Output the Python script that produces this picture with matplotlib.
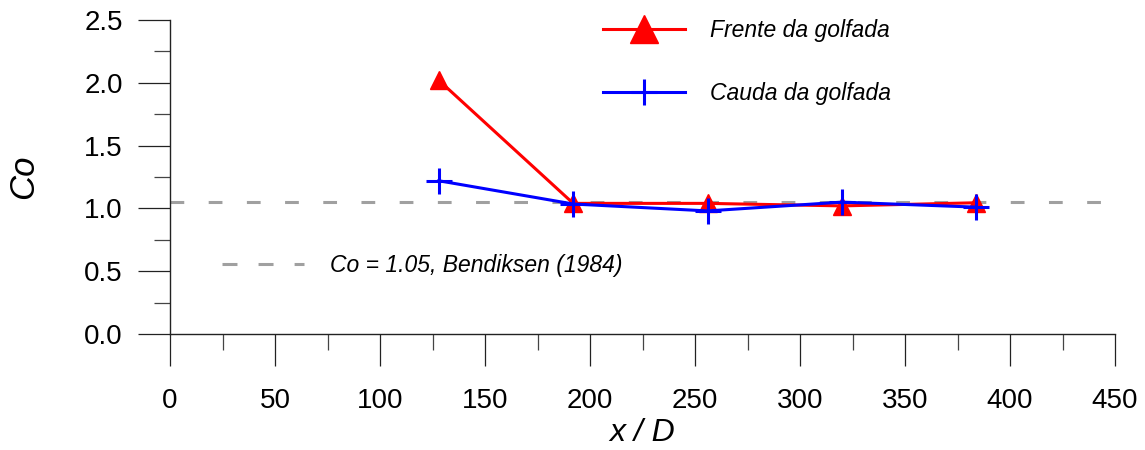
import matplotlib
matplotlib.use('Agg')
import matplotlib.pyplot as plt
from matplotlib.lines import Line2D
from matplotlib.ticker import MultipleLocator

plt.rcParams['font.family'] = ['Liberation Sans', 'DejaVu Sans']

# posições x/D e coeficiente de distribuição Co
xd = [128, 192, 256, 320, 384]
co_frente = [2.02, 1.04, 1.04, 1.02, 1.045]
co_cauda = [1.22, 1.035, 0.98, 1.05, 1.01]
co_bendiksen = 1.05

lbl_frente = 'Frente da golfada'
lbl_cauda = 'Cauda da golfada'
lbl_bendiksen = 'Co = 1.05, Bendiksen (1984)'

fig = plt.figure(figsize=(11.45, 4.5), dpi=100)
ax = fig.add_axes([170/1145, 116/450, 945/1145, 314/450])

cinza = '#a0a0a0'
ax.axhline(co_bendiksen, color=cinza, lw=2.2, dashes=(4.5, 8), zorder=1)
ax.plot(xd, co_frente, color='red', lw=2.2, marker='^', ms=12.5, zorder=3)
ax.plot(xd, co_cauda, color='blue', lw=2.2, marker='+', ms=19, mew=2.2, zorder=4)

ax.set_xlim(0, 450)
ax.set_ylim(0, 2.5)
ax.xaxis.set_major_locator(MultipleLocator(50))
ax.xaxis.set_minor_locator(MultipleLocator(25))
ax.yaxis.set_major_locator(MultipleLocator(0.5))
ax.yaxis.set_minor_locator(MultipleLocator(0.25))
ax.yaxis.set_major_formatter(matplotlib.ticker.FormatStrFormatter('%.1f'))

for s in ['top', 'right']:
    ax.spines[s].set_visible(False)
for s in ['left', 'bottom']:
    ax.spines[s].set_linewidth(1.0)
    ax.spines[s].set_color('#222222')

ax.tick_params(which='major', length=23, width=0.9, color='#222222', labelsize=20)
ax.tick_params(which='minor', length=11.5, width=0.9, color='#444444')
ax.tick_params(axis='x', which='major', pad=16)
ax.tick_params(axis='y', which='major', pad=11)

ax.set_xlabel('x / D', fontsize=23, style='italic', labelpad=3)
ax.set_ylabel('Co', fontsize=25, style='italic', labelpad=32)

h_frente = Line2D([], [], color='red', lw=2.2, marker='^', ms=19.5)
h_cauda = Line2D([], [], color='blue', lw=2.2, marker='+', ms=19, mew=2.2)
leg1 = ax.legend([h_frente, h_cauda], [lbl_frente, lbl_cauda], loc='upper left',
                 bbox_to_anchor=(0.458, 1.003), frameon=False, borderpad=0, borderaxespad=0,
                 handlelength=3.58, handletextpad=1.09, labelspacing=1.75,
                 prop={'size': 16.5, 'style': 'italic'})
ax.add_artist(leg1)

h_bend = Line2D([], [], color=cinza, lw=2.2, dashes=(4.9, 6.9))
ax.legend([h_bend], [lbl_bendiksen], loc='center left', bbox_to_anchor=(0.055, 0.217),
          frameon=False, borderpad=0, borderaxespad=0, handlelength=3.6,
          handletextpad=1.13, prop={'size': 16.5, 'style': 'italic'})

fig.savefig('out.png', dpi=100)
